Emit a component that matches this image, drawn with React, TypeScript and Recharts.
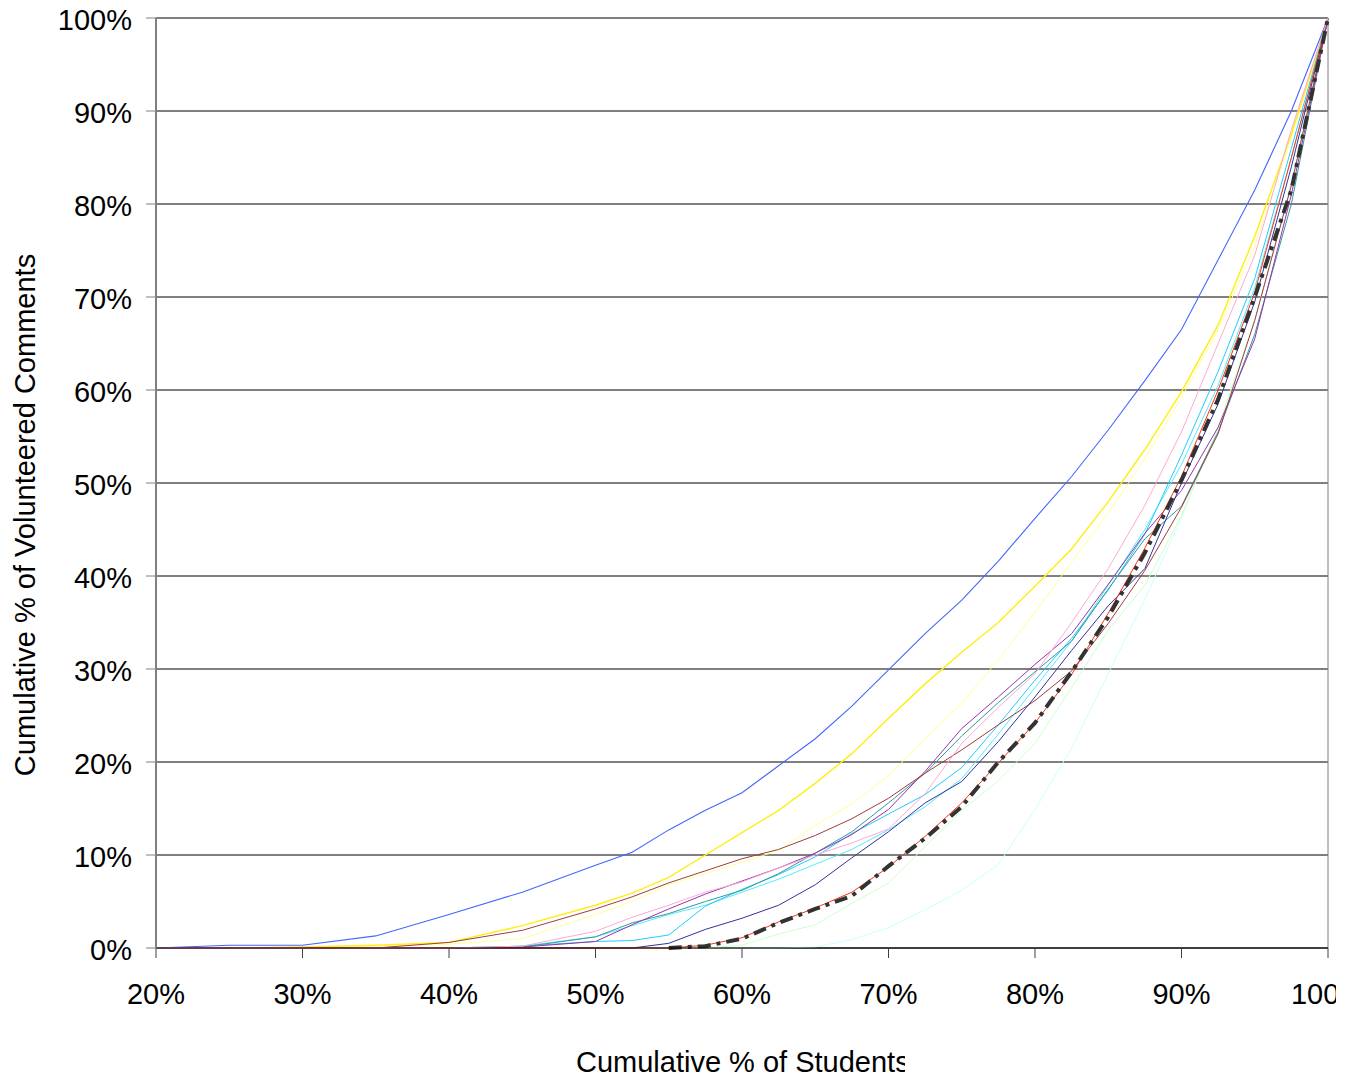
import { LineChart, Line, XAxis, YAxis, CartesianGrid, ReferenceLine, Label } from 'recharts'

// cumulative % of students (x) and cumulative % of volunteered comments per class (y)
const studentPct = [20, 25, 30, 35, 40, 45, 50, 52.5, 55, 57.5, 60, 62.5, 65, 67.5, 70, 72.5, 75, 77.5, 80, 82.5, 85, 87.5, 90, 92.5, 95, 97.5, 100]

const blue = [0, 0.3, 0.3, 1.3, 3.6, 6, 8.9, 10.3, 12.7, 14.8, 16.7, 19.6, 22.5, 26, 29.9, 33.8, 37.4, 41.6, 46.2, 50.7, 55.7, 61, 66.5, 74, 81.5, 90, 100]
const yellow = [0, 0, 0.1, 0.3, 0.6, 2.4, 4.6, 5.9, 7.6, 10, 12.4, 14.8, 17.7, 20.9, 24.7, 28.4, 31.8, 35, 38.9, 42.9, 48, 53.6, 59.8, 67, 76.5, 87.5, 100]
const lightYellow = [0, 0, 0, 0.2, 0.4, 1, 3.6, 5, 6.8, 8, 9.2, 10.5, 13.2, 15.5, 18.5, 22.5, 26.3, 31, 36.1, 41.5, 46.8, 52.6, 59.2, 66.5, 75.5, 87, 100]
const brown = [0, 0, 0, 0, 0.6, 1.9, 4.2, 5.5, 7, 8.3, 9.6, 10.6, 12.1, 13.9, 16.1, 18.8, 21.3, 24, 26.6, 29.8, 34.9, 40.6, 47.4, 55.3, 67.5, 82, 100]
const purple = [0, 0, 0, 0, 0, 0.1, 0.7, 2.5, 4.2, 5.8, 7.2, 8.6, 10.2, 12.2, 14.9, 19, 23.6, 27, 30.5, 33.8, 39.1, 44.6, 49.2, 56, 65.5, 81, 100]
const pink = [0, 0, 0, 0, 0, 0.2, 1.8, 3.3, 4.6, 6, 7.1, 8.6, 10, 11.3, 12.8, 16.6, 22, 25.9, 29.5, 35, 40.8, 47.6, 55.5, 65, 74.5, 88, 100]
const teal = [0, 0, 0, 0, 0, 0.1, 1.2, 2.7, 3.7, 5, 6.2, 8, 10.2, 12.5, 15.6, 18.8, 22.8, 26.4, 29.7, 33, 38.6, 44, 47.5, 55.5, 66, 80, 100]
const cyan = [0, 0, 0, 0, 0, 0.2, 0.7, 0.8, 1.4, 4.5, 6.3, 7.9, 9.8, 12.3, 14.4, 16.5, 19.4, 24, 28.8, 33.3, 38.5, 44.5, 53, 62, 72, 86, 100]
const paleCyan = [0, 0, 0, 0, 0, 0.2, 1.2, 2.4, 3.6, 4.6, 6, 7.4, 9, 10.6, 12.7, 15.2, 18.2, 23, 28, 33, 39, 45, 52, 60.5, 71, 85, 100]
const navy = [0, 0, 0, 0, 0, 0, 0, 0, 0.5, 2, 3.2, 4.6, 6.8, 9.7, 12.5, 15.6, 17.9, 22.2, 27, 32, 36.8, 40.8, 50, 58.5, 69.5, 84, 100]
const red = [0, 0, 0, 0, 0, 0, 0, 0, 0, 0.3, 1.1, 2.8, 4.3, 6, 8.7, 12, 15.6, 19.9, 24.2, 29.4, 36, 43, 50.7, 60, 70.5, 85, 100]
// the average line only shows from about 55% of students on
const average = [null, null, null, null, null, null, null, null, 0, 0.2, 1, 2.7, 4.2, 5.6, 8.8, 11.8, 15.2, 20, 24.2, 29.7, 35.6, 42.5, 50.3, 59, 70, 81.5, 100]
const paleGreen = [0, 0, 0, 0, 0, 0, 0, 0, 0, 0, 0.3, 1.5, 2.5, 4.8, 7, 10.9, 14.8, 18, 22, 28, 34.2, 39, 46.5, 56, 67.5, 82, 100]
const paleAqua = [0, 0, 0, 0, 0, 0, 0, 0, 0, 0, 0, 0, 0.1, 0.9, 2.2, 4.1, 6.2, 9, 14.9, 21.5, 29.5, 37.5, 46.3, 56, 67.5, 82.5, 100]

const xTicks = [20, 30, 40, 50, 60, 70, 80, 90, 100]
const yTicks = [0, 10, 20, 30, 40, 50, 60, 70, 80, 90, 100]

const data = studentPct.map((x, i) => ({
  x,
  blue: blue[i],
  yellow: yellow[i],
  lightYellow: lightYellow[i],
  brown: brown[i],
  purple: purple[i],
  pink: pink[i],
  teal: teal[i],
  cyan: cyan[i],
  paleCyan: paleCyan[i],
  navy: navy[i],
  red: red[i],
  average: average[i],
  paleGreen: paleGreen[i],
  paleAqua: paleAqua[i],
}))

// drawn back to front
const series = [
  { key: 'paleAqua', color: '#ccffff', width: 1 },
  { key: 'paleGreen', color: '#ccffcc', width: 1 },
  { key: 'lightYellow', color: '#ffff99', width: 1 },
  { key: 'yellow', color: '#ffee11', width: 1.4 },
  { key: 'paleCyan', color: '#55eaff', width: 1 },
  { key: 'cyan', color: '#22ccff', width: 1 },
  { key: 'teal', color: '#339999', width: 1 },
  { key: 'purple', color: '#9933aa', width: 1 },
  { key: 'brown', color: '#a03c3c', width: 1 },
  { key: 'navy', color: '#333399', width: 1 },
  { key: 'red', color: '#ff3311', width: 1 },
  { key: 'blue', color: '#4466ff', width: 1.1 },
  { key: 'pink', color: '#ffa8d4', width: 1 },
]

const font = '"Liberation Sans", Arial, sans-serif'
const pct = (v: number) => `${v}%`

export default function App() {
  return (
    <div style={{ width: 1328, height: 1072, overflow: 'hidden' }}>
      <LineChart width={1328} height={1072} data={data} margin={{ top: 10, right: 8, left: 0, bottom: 0 }}>
        <CartesianGrid horizontal vertical={false} stroke="#000" strokeWidth={1} />
        <XAxis
          dataKey="x"
          type="number"
          domain={[20, 100]}
          ticks={xTicks}
          interval={0}
          tickFormatter={pct}
          height={132}
          tickSize={10}
          tickMargin={25}
          axisLine={{ stroke: '#000' }}
          tickLine={{ stroke: '#404040' }}
          tick={{ fontSize: 29, fill: '#000', fontFamily: font }}
        >
          <Label
            content={() => (
              <g>
                <defs>
                  <clipPath id="xTitleClip">
                    <rect x={0} y={1000} width={897} height={72} />
                  </clipPath>
                </defs>
                <text x={568} y={1064} clipPath="url(#xTitleClip)" fontSize={29} fontFamily={font} fill="#000">
                  Cumulative % of Students
                </text>
              </g>
            )}
          />
        </XAxis>
        <YAxis
          type="number"
          domain={[0, 100]}
          ticks={yTicks}
          interval={0}
          tickFormatter={pct}
          width={148}
          tickSize={10}
          tickMargin={14}
          axisLine={{ stroke: '#808080', strokeWidth: 2 }}
          tickLine={{ stroke: '#808080' }}
          tick={{ fontSize: 29, fill: '#000', fontFamily: font, dy: 2 }}
        >
          <Label
            content={() => (
              <text
                x={27}
                y={507}
                transform="rotate(-90 27 507)"
                textAnchor="middle"
                fontSize={29}
                fontFamily={font}
                fill="#000"
              >
                Cumulative % of Volunteered Comments
              </text>
            )}
          />
        </YAxis>
        <ReferenceLine y={100} stroke="#808080" />
        <ReferenceLine x={100} stroke="#808080" />
        {series.map((s) => (
          <Line
            key={s.key}
            dataKey={s.key}
            type="linear"
            stroke={s.color}
            strokeWidth={s.width}
            dot={false}
            activeDot={false}
            isAnimationActive={false}
          />
        ))}
        <Line
          dataKey="average"
          type="linear"
          stroke="#333333"
          strokeWidth={4}
          strokeDasharray="13 6 4 6"
          dot={false}
          activeDot={false}
          isAnimationActive={false}
        />
      </LineChart>
    </div>
  )
}
